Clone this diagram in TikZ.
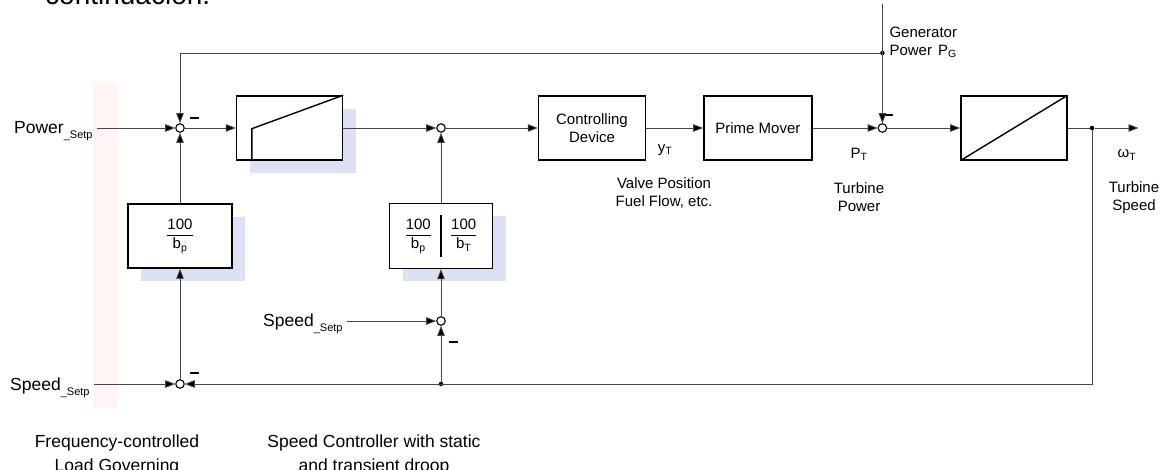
\documentclass[tikz,border=0pt]{standalone}
\usepackage{fontspec}
\setmainfont{Liberation Sans}
\usepackage{amsmath}
\usepackage{tikz}
\usetikzlibrary{positioning,arrows.meta,calc,shadows}

\definecolor{lineg}{RGB}{70,70,70}
\definecolor{shade}{RGB}{222,224,244}
\newcommand{\setp}{\raisebox{-5pt}{\fontsize{11}{11}\selectfont\_Setp}}
\newcommand{\gain}[1]{$\dfrac{\text{100}}{\text{b}_{\text{#1}}}$}

\begin{document}
\begin{tikzpicture}[x=1pt, y=-1pt,
  every node/.style={font=\fontsize{15}{18}\selectfont},
  blk/.style={draw, line width=1.4pt, fill=white,
              minimum width=106pt, minimum height=64pt,
              align=center, inner sep=0pt},
  shd/.style={drop shadow={shadow xshift=13pt, shadow yshift=-13pt,
              fill=shade, opacity=1}},
  sum/.style={circle, draw, line width=1.1pt, fill=white,
              minimum size=8.5pt, inner sep=0pt},
  dot/.style={circle, fill=black, minimum size=4.5pt, inner sep=0pt},
  arr/.style={-{Triangle[length=10pt,width=7.5pt,fill=black]},
              line width=0.8pt, draw=lineg},
  ln/.style={line width=0.8pt, draw=lineg},
  big/.style={font=\fontsize{17.5}{21}\selectfont, inner sep=4pt},
  capt/.style={font=\fontsize{17.5}{24}\selectfont, align=center},
  txt/.style={align=center, inner sep=1pt},
  minus/.style={inner sep=0pt}
]

\useasboundingbox (0,0) rectangle (1165,470);
\clip (0,0) rectangle (1165,470);
\fill[white] (0,0) rectangle (1165,470);
\fill[red!4] (93,82) rectangle (117,408);

\node[font=\fontsize{28}{30}\selectfont, anchor=base west, inner sep=0pt]
  (cont) at (45,5) {continuación.};

%% forward path
\node[sum] (s1) at (180,128) {};
\node[blk, shd, right=51pt of s1] (lim) {};
\node[sum, right=93pt of lim] (s2) {};
\node[blk, minimum width=107pt, right=92pt of s2] (ctrl) {Controlling\\Device};
\node[blk, minimum width=108pt, right=57pt of ctrl] (pm) {Prime Mover};
\node[sum, right=65pt of pm] (s3) {};
\node[blk, right=73pt of s3] (integ) {};
\node[dot, right=22pt of integ] (odot) {};
\coordinate[right=44pt of odot] (wout);

\draw[line width=1.4pt] ($(lim.south west)+(16,0)$) -- ++(0,-32) -- (lim.north east);
\draw[line width=1.4pt] (integ.south west) -- (integ.north east);

%% feedback blocks
\node[blk, shd, minimum width=104pt] (bp) at ($(s1)+(0,108)$) {\gain{p}};
\node[sum] (s4) at ($(s1)+(0,256)$) {};
\node[blk, shd, minimum width=103pt, minimum height=65pt] (droop)
     at ($(s2)+(0,108)$) {\gain{p}\hspace{18pt}\gain{T}};
\draw[line width=1.4pt] ($(droop.north)+(0,12)$) -- ($(droop.south)+(0,-12)$);
\node[sum] (s5) at ($(s2)+(0,193)$) {};
\node[dot] (ddot) at ($(s2)+(0,256)$) {};
\node[dot] (gdot) at ($(s3)+(0,-75)$) {};
\coordinate (gtop) at ($(s3)+(0,-124)$);

%% inputs
\node[big, anchor=base west] (pwr)  at (10,133.3) {Power\setp};
\node[big, anchor=base west] (spd1) at (6,391)    {Speed\setp};
\node[big, anchor=base west] (spd2) at (259,326.5) {Speed\setp};

%% signs
\node[minus] (m1) at (194,118)   {\rule{9pt}{1.6pt}};
\node[minus] (m2) at (888,115)   {\rule{9pt}{1.6pt}};
\node[minus] (m3) at (453,342)   {\rule{9pt}{1.6pt}};
\node[minus] (m4) at (194,373)   {\rule{9pt}{1.6pt}};

%% labels
\node (yT) at (665,150)  {y\textsubscript{T}};
\node (pT) at (859,154)  {P\textsubscript{T}};
\node (wT) at (1127,155) {ω\textsubscript{T}};
\node[txt] (valve) at (664,193.5)  {Valve Position\\Fuel Flow, etc.};
\node[txt] (tpow)  at (859,197.5)  {Turbine\\Power};
\node[txt] (tspd)  at (1134,197.5) {Turbine\\Speed};
\node[align=left, anchor=west] (gen) at (886,42.5)
     {Generator\\Power\hspace{6pt}P\textsubscript{G}};
\node[capt] (flg) at (117,455) {Frequency-controlled\\Load Governing};
\node[capt] (spc) at (374,455) {Speed Controller with static\\and transient droop};

%% connectors
\draw[arr] (pwr.east |- s1) -- (s1);
\draw[arr] (s1) -- (lim);
\draw[arr] (lim) -- (s2);
\draw[arr] (s2) -- (ctrl);
\draw[arr] (ctrl) -- (pm);
\draw[arr] (pm) -- (s3);
\draw[arr] (s3) -- (integ);
\draw[ln]  (integ) -- (odot);
\draw[arr] (odot) -- (wout);
\draw[arr] (gtop) -- (s3);
\draw[arr] (gdot) -| (s1);
\draw[arr] (odot) |- (s4);
\draw[arr] (s4) -- (bp);
\draw[arr] (bp) -- (s1);
\draw[arr] (spd1.east |- s4) -- (s4);
\draw[arr] (ddot) -- (s5);
\draw[arr] (s5) -- (droop);
\draw[arr] (droop) -- (s2);
\draw[arr] (spd2.east |- s5) -- (s5);

\end{tikzpicture}
\end{document}
